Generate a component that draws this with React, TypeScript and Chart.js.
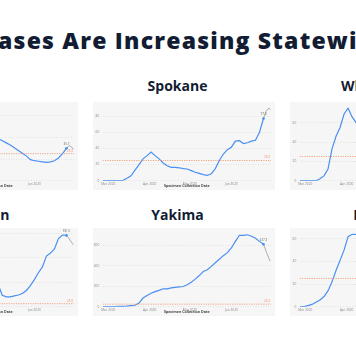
import React, { useEffect, useRef } from "react";
import { Chart, registerables } from "chart.js";
Chart.register(...registerables);

const MAIN_TITLE = "Cases Are Increasing Statewide";
const X_TITLE = "Specimen Collection Date";
const MONTH_TICK_DAYS = [0, 31, 61, 92];
const MONTH_LABELS = ["Mar 2020", "Apr 2020", "May 2020", "Jun 2020"];
const THRESHOLD = 25;
const THRESHOLD_LABEL = "25.0";

// days since 1 Mar 2020
const DAYS = [-4, -1, 2, 5, 8, 11, 14, 17, 20, 23, 26, 29, 32, 35, 38, 41, 44, 47, 50, 53, 56, 59, 62, 65, 68, 71, 74, 77, 80, 83, 86, 89, 92, 95, 98, 101, 104, 107, 110, 113, 116];
const RECENT_DAYS = [116, 118, 120, 121];

const KING = [0, 1, 3, 6, 11, 18, 27, 36, 45, 53, 59, 63, 64, 62, 60, 58, 56, 54, 52, 50, 47, 45, 42, 39, 37, 35, 33, 30.5, 28, 25.5, 23, 19.5, 18.5, 18, 17.5, 17, 17.5, 18.5, 21, 25, 30];
const KING_RECENT = [30, 32.5, 31, 29];

const SPOKANE = [0, 0, 0, 0, 0, 0.5, 3, 6, 13, 20, 27, 31, 35.5, 31, 27, 22, 18.5, 16.5, 16.5, 16, 15, 14.5, 12.5, 10.5, 9, 7.5, 6.5, 8.5, 15, 25, 33, 38.5, 41.5, 49, 49.5, 46, 47, 49, 50, 60, 77];
const SPOKANE_RECENT = [77, 86, 90, 88];

const WHATCOM = [0, 0, 0, 0, 0, 2, 5, 12, 33, 46, 55, 69, 75, 66, 60, 55, 51, 47, 43, 39, 35, 31, 28, 25, 22, 20, 18, 16, 14, 12, 11, 10, 9, 9, 10, 11, 12, 13, 15, 17, 19];
const WHATCOM_RECENT = [19, 21, 20, 19];

const FRANKLIN = [0, 0, 0, 1, 2, 5, 10, 20, 40, 70, 100, 130, 160, 190, 215, 235, 250, 260, 255, 245, 230, 215, 200, 182, 95, 82, 82, 90, 97, 110, 135, 175, 225, 282, 330, 420, 445, 480, 565, 595, 592];
const FRANKLIN_RECENT = [592, 565, 530, 515];

const YAKIMA = [0, 0, 1, 2, 3, 4, 6, 10, 14, 35, 85, 110, 132, 148, 160, 176, 175, 185, 190, 194, 198, 215, 240, 270, 305, 345, 362, 395, 430, 465, 500, 530, 575, 640, 700, 698, 705, 690, 670, 640, 612];
const YAKIMA_RECENT = [612, 540, 475, 445];

const ISLAND = [0, 0, 1, 2, 4, 6, 9, 14, 22, 32, 41, 50, 62, 64, 64, 62, 58, 53, 47, 41, 35, 29, 24, 19, 15, 12, 10, 8, 7, 6, 6, 5, 5, 6, 7, 8, 9, 10, 11, 12, 13];
const ISLAND_RECENT = [13, 14, 14, 13];

const COUNTIES = ["King", "Spokane", "Whatcom", "Franklin", "Yakima", "Island"];
const SERIES = [KING, SPOKANE, WHATCOM, FRANKLIN, YAKIMA, ISLAND];
const RECENT = [KING_RECENT, SPOKANE_RECENT, WHATCOM_RECENT, FRANKLIN_RECENT, YAKIMA_RECENT, ISLAND_RECENT];
const LAST_LABELS = ["35.7", "77.0", "19.4", "591.5", "617.3", "12.8"];
const Y_MAX = [68, 91, 76, 610, 720, 65];
const Y_STEP = [20, 20, 20, 200, 200, 20];

const BLUE = "#4a8ff2";
const ORANGE = "#ef8c5e";
const GREY_LINE = "#9a9a9a";
const PANEL_BG = "#f6f6f7";
const FONT = "'Open Sans', 'Noto Sans', sans-serif";

const COL_LEFT = [-104, 93, 290];
const ROW_TOP = [102, 228];
const TITLE_TOP = [79.3, 208.3];
const PANEL_W = 182;
const PANEL_H = 88;

const labelPlugin = {
  id: "panelLabels",
  afterDatasetsDraw(chart: any, _args: any, opts: any) {
    const { ctx, chartArea, scales } = chart;
    const ty = scales.y.getPixelForValue(opts.threshold);
    ctx.save();
    ctx.font = `3px ${FONT}`;
    ctx.fillStyle = ORANGE;
    ctx.textAlign = "right";
    ctx.textBaseline = "bottom";
    ctx.fillText(opts.thresholdLabel, chartArea.right - 1, ty - 1.5);
    const meta = chart.getDatasetMeta(1);
    const last = meta.data[meta.data.length - 1];
    if (last) {
      ctx.fillStyle = "#666";
      ctx.textAlign = "center";
      ctx.fillText(opts.lastLabel, last.x, last.y - 2.5);
    }
    ctx.restore();
  },
};

function Panel({ idx }: { idx: number }) {
  const ref = useRef<HTMLCanvasElement>(null);
  const col = idx % 3;
  const row = Math.floor(idx / 3);
  const left = COL_LEFT[col];
  const top = ROW_TOP[row];

  useEffect(() => {
    const values = SERIES[idx];
    const recent = RECENT[idx];
    const n = values.length;
    const chart = new Chart(ref.current as HTMLCanvasElement, {
      type: "line",
      data: {
        datasets: [
          {
            data: [
              { x: -4.3, y: THRESHOLD },
              { x: 121.6, y: THRESHOLD },
            ],
            borderColor: ORANGE,
            borderWidth: 0.8,
            borderDash: [1.2, 1.2],
            pointRadius: 0,
          },
          {
            data: DAYS.map((d, i) => ({ x: d, y: values[i] })),
            borderColor: BLUE,
            backgroundColor: BLUE,
            borderWidth: 1.2,
            pointRadius: values.map((_, i) => (i === n - 1 ? 1.3 : 0)),
            pointBorderWidth: 0,
            tension: 0,
          },
          {
            data: RECENT_DAYS.map((d, i) => ({ x: d, y: recent[i] })),
            borderColor: GREY_LINE,
            borderWidth: 0.8,
            pointRadius: 0,
            tension: 0,
          },
        ],
      },
      options: {
        animation: false,
        responsive: false,
        devicePixelRatio: 1,
        layout: { padding: { left: 0, right: 3.7, top: 3, bottom: 0 } },
        plugins: {
          legend: { display: false },
          tooltip: { enabled: false },
          panelLabels: {
            threshold: THRESHOLD,
            thresholdLabel: THRESHOLD_LABEL,
            lastLabel: LAST_LABELS[idx],
          },
        } as any,
        scales: {
          x: {
            type: "linear",
            min: -4.3,
            max: 121.6,
            afterBuildTicks: (scale: any) => {
              scale.ticks = MONTH_TICK_DAYS.map((v) => ({ value: v }));
            },
            afterFit: (scale: any) => {
              scale.height = 9.3;
            },
            ticks: {
              autoSkip: false,
              maxRotation: 0,
              padding: 1.8,
              color: "#888",
              font: { size: 3.2, family: FONT },
              callback: (v: any) => {
                const k = MONTH_TICK_DAYS.indexOf(Number(v));
                return k >= 0 ? MONTH_LABELS[k] : "";
              },
            },
            grid: { display: false, drawTicks: false },
            border: { display: false },
            title: {
              display: true,
              text: X_TITLE,
              color: "#444",
              font: { size: 3.6, weight: "bold", family: FONT },
              padding: { top: 0, bottom: 1.4 },
            },
          },
          y: {
            min: 0,
            max: Y_MAX[idx],
            afterFit: (scale: any) => {
              scale.width = 9.5;
            },
            ticks: {
              stepSize: Y_STEP[idx],
              includeBounds: false,
              padding: 3.3,
              color: "#888",
              font: { size: 3.2, family: FONT },
            },
            grid: { color: "#d9d9d9", lineWidth: 0.6, drawTicks: false },
            border: { display: false, dash: [1, 1.5] },
          },
        },
      } as any,
      plugins: [labelPlugin as any],
    });
    return () => chart.destroy();
  }, [idx]);

  return (
    <>
      <div
        style={{
          position: "absolute",
          left: left + 84.5 - 100,
          top: TITLE_TOP[row],
          width: 200,
          textAlign: "center",
          fontFamily: FONT,
          fontWeight: 700,
          fontSize: 14,
          lineHeight: "14px",
          color: "#121c33",
          whiteSpace: "nowrap",
        }}
      >
        {COUNTIES[idx]}
      </div>
      <canvas
        ref={ref}
        width={PANEL_W}
        height={PANEL_H}
        style={{
          position: "absolute",
          left,
          top,
          width: PANEL_W,
          height: PANEL_H,
          background: PANEL_BG,
        }}
      />
    </>
  );
}

export default function App() {
  return (
    <div
      style={{
        position: "absolute",
        left: 0,
        top: 0,
        width: 356,
        height: 364,
        overflow: "hidden",
        background: "#fff",
      }}
    >
      <div
        style={{
          position: "absolute",
          left: 185.5 - 400,
          width: 800,
          top: 28.6,
          textAlign: "center",
          fontFamily: FONT,
          fontWeight: 800,
          fontSize: 23,
          lineHeight: "23px",
          letterSpacing: "1.2px",
          color: "#121c33",
          whiteSpace: "nowrap",
        }}
      >
        {MAIN_TITLE}
      </div>
      {COUNTIES.map((_, i) => (
        <Panel key={i} idx={i} />
      ))}
    </div>
  );
}
